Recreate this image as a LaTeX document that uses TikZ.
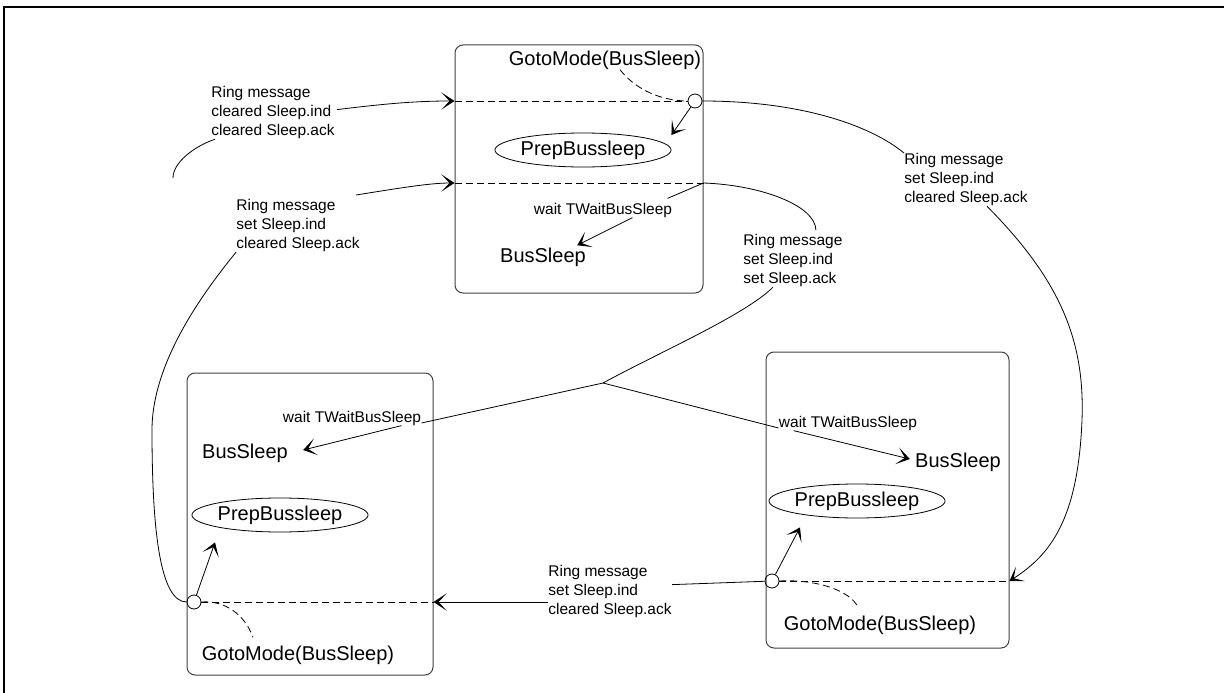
\documentclass[tikz,border=0pt]{standalone}
\usepackage{fontspec}
\setmainfont{Liberation Sans}
\usetikzlibrary{arrows.meta}
\usetikzlibrary{shapes.geometric}

\begin{document}
\begin{tikzpicture}[x=1pt, y=-1pt, line width=0.8pt,
  box/.style={draw=black!75, line width=1pt, rounded corners=8pt, inner sep=0pt},
  msg/.style={align=left, anchor=north west, inner sep=0pt, font=\fontsize{15.5}{19}\selectfont},
  waitlbl/.style={inner sep=0pt, font=\fontsize{15.5}{19}\selectfont},
  statelbl/.style={inner sep=0pt, font=\fontsize{20}{24}\selectfont},
  prep/.style={draw, ellipse, inner sep=0pt, minimum width=159pt, minimum height=34pt, font=\fontsize{20}{24}\selectfont},
  hub/.style={draw, circle, inner sep=0pt, minimum size=14pt},
  tip/.style={-{Stealth[length=13pt, width=17pt, inset=8pt]}},
  dashline/.style={dash pattern=on 7pt off 4pt},
]
\useasboundingbox (0,0) rectangle (1224,693);
\draw[line width=2pt] (1224,7) -- (4,7) -- (4,693);

% boxes
\node[box, minimum width=248pt, minimum height=248pt] (topbox) at (579,169) {};
\node[box, minimum width=246pt, minimum height=302pt] (lbox) at (310,524) {};
\node[box, minimum width=243pt, minimum height=296pt] (rbox) at (887.5,500) {};

% top box
\node[statelbl] (gotoT) at (605,60) {GotoMode(BusSleep)};
\node[prep] (prepT) at (583,150) {\raisebox{4pt}{PrepBussleep}};
\node[waitlbl] (waitT) at (603,210) {wait TWaitBusSleep};
\node[statelbl] (busT) at (543,257) {BusSleep};
\node[hub] (hubT) at (695,101) {};

% left box
\node[waitlbl] (waitL) at (352,418) {wait TWaitBusSleep};
\node[statelbl] (busL) at (245,453) {BusSleep};
\node[prep] (prepL) at (280,515) {\raisebox{4pt}{PrepBussleep}};
\node[statelbl] (gotoL) at (298,655) {GotoMode(BusSleep)};
\node[hub] (hubL) at (194,602) {};

% right box
\node[waitlbl] (waitR) at (848,423) {wait TWaitBusSleep};
\node[statelbl] (busR) at (958,462) {BusSleep};
\node[prep] (prepR) at (857,501) {\raisebox{4pt}{PrepBussleep}};
\node[statelbl] (gotoR) at (880,625) {GotoMode(BusSleep)};
\node[hub] (hubR) at (772,581) {};

% ring messages
\node[msg] (msgA) at (211,86) {Ring message\\cleared Sleep.ind\\cleared Sleep.ack};
\node[msg] (msgB) at (236,199) {Ring message\\set Sleep.ind\\cleared Sleep.ack};
\node[msg] (msgC) at (743,234) {Ring message\\set Sleep.ind\\set Sleep.ack};
\node[msg] (msgD) at (904,153) {Ring message\\set Sleep.ind\\cleared Sleep.ack};
\node[msg] (msgE) at (548,565) {Ring message\\set Sleep.ind\\cleared Sleep.ack};

\coordinate (tIn1) at (topbox.west |- hubT);
\coordinate (tIn2) at ([yshift=-14pt]topbox.west);
\coordinate (tOut2) at ([yshift=-14pt]topbox.east);
\coordinate (lIn) at (lbox.east |- hubL);
\coordinate (rIn) at (rbox.east |- hubR);
\coordinate (aTail) at (173,178);
\coordinate (J) at (603,383);

% top box connectors
\draw[tip] ([xshift=2pt,yshift=3pt]msgA.east) .. controls (390,103) and (420,101) .. (tIn1);
\draw ([xshift=4pt]msgA.south west) .. controls (195,146) and (173,162) .. (aTail);
\draw[dashline] (tIn1) -- (hubT);
\draw[dashline] ([xshift=15pt]gotoT.south) .. controls (640,95) and (670,101) .. (hubT.west);
\draw[tip] (hubT) -- ([yshift=15pt]prepT.east);
\draw[tip] ([xshift=-4pt,yshift=4pt]msgB.north east) .. controls (400,188) and (430,183) .. (tIn2);
\draw[dashline] (tIn2) -- (tOut2);
\draw (tOut2) -- ([xshift=-5pt,yshift=4pt]waitT.north east);
\draw[tip] ([xshift=-40pt]waitT.south east) -- ([xshift=-9pt,yshift=2pt]busT.north east);
\draw (tOut2) .. controls (760,185) and (815,205) .. ([xshift=23pt,yshift=4pt]msgC.north);
\draw (hubT) .. controls (800,101) and (870,125) .. (msgD.north west);
\draw[tip] ([xshift=21pt]msgD.south) .. controls (1060,280) and (1085,340) .. (1082,420)
  .. controls (1078,520) and (1050,555) .. (rIn);

% junction to the lower boxes
\draw ([xshift=-20pt]msgC.south) .. controls (745,315) and (660,352) .. (J);
\draw (J) -- ([yshift=-5pt]waitL.east);
\draw[tip] ([xshift=-20pt]waitL.south east) -- ([xshift=15pt,yshift=3pt]busL.east);
\draw (J) -- ([yshift=-5pt]waitR.west);
\draw[tip] ([xshift=15pt]waitR.south west) -- ([xshift=-5pt,yshift=3pt]busR.west);

% right box connectors
\draw[dashline] (hubR) -- (rIn);
\draw[tip] (hubR) -- ([xshift=-57pt,yshift=-9pt]prepR.south);
\draw[dashline] (hubR.east) .. controls (815,579) and (850,590) .. ([xshift=-22pt,yshift=8pt]gotoR.north);
\draw ([yshift=7pt]msgE.east) -- (hubR);

% left box connectors
\draw[tip] (msgE.west |- lIn) -- (lIn);
\draw[dashline] (hubL) -- (lIn);
\draw[tip] (hubL) -- ([xshift=-65pt,yshift=-10pt]prepL.south);
\draw[dashline] (hubL.east) .. controls (225,600) and (245,615) .. ([xshift=-45pt,yshift=8pt]gotoL.north);
\draw (msgB.south west) .. controls (207,288) and (152,360) .. (152,430)
  .. controls (152,530) and (160,602) .. (hubL.west);
\end{tikzpicture}
\end{document}
